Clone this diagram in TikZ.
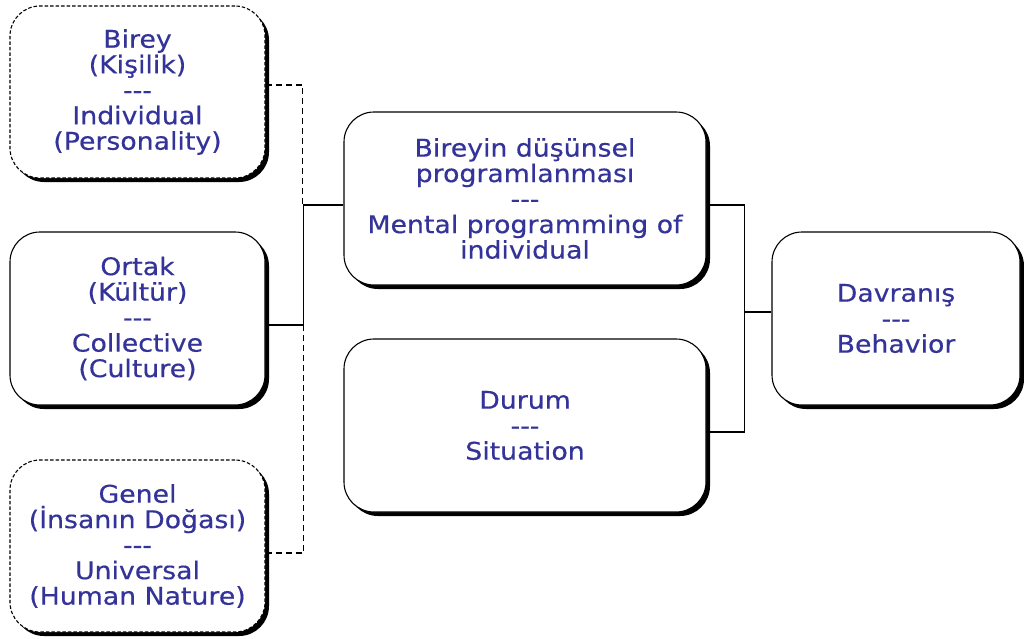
\documentclass[tikz,border=0pt]{standalone}
\usepackage{fontspec}
\setmainfont[FakeStretch=1.1,FakeBold=0.4]{DejaVu Sans}
\usetikzlibrary{shadows,calc}
\definecolor{txt}{HTML}{333399}
\newcommand{\sep}{-{}-{}-}
\begin{document}
\begin{tikzpicture}[x=1pt,y=-1pt,
  box/.style={draw=black, line width=1.1pt, fill=white, rounded corners=30pt,
    align=center, text=txt, font=\fontsize{24.3}{25.5}\selectfont, inner sep=0pt,
    drop shadow={shadow xshift=4pt, shadow yshift=-4pt, fill=black, opacity=1}},
  dashbox/.style={box, dash pattern=on 3.5pt off 2pt},
  link/.style={line width=1.2pt, draw=black},
  dashlink/.style={link, dash pattern=on 6pt off 4pt}]
\useasboundingbox (0,0) rectangle (1024,638);

% left column
\node[dashbox, minimum width=255pt, minimum height=172pt] (A) at (137.5,92)
  {Birey\\(Kişilik)\\\sep\\Individual\\(Personality)};
\node[box, minimum width=255pt, minimum height=173pt] (B) at (137.5,318.5)
  {Ortak\\(Kültür)\\\sep\\Collective\\(Culture)};
\node[dashbox, minimum width=255pt, minimum height=172pt] (C) at (137.5,546)
  {Genel\\(İnsanın Doğası)\\\sep\\Universal\\(Human Nature)};

% middle column
\node[box, minimum width=362pt, minimum height=173pt] (D) at (525,198.5)
  {Bireyin düşünsel\\programlanması\\\sep\\Mental programming of\\individual};
\node[box, minimum width=362pt, minimum height=173pt] (E) at (525,425.5)
  {Durum\\\sep\\Situation};

% right column
\node[box, minimum width=248pt, minimum height=173pt] (F) at (896,318.5)
  {Davranış\\\sep\\Behavior};

% connectors
\draw[link] ([yshift=-6.5pt]B.east) -- ++(38,0) |- ([yshift=-6.5pt]D.west);
\draw[dashlink] ([yshift=7pt]A.east) -| ([xshift=-41pt,yshift=-6.5pt]D.west);
\draw[dashlink] ([yshift=-7pt]C.east) -| ([xshift=38pt,yshift=-6.5pt]B.east);

\coordinate (j) at ([xshift=-27pt,yshift=6.5pt]F.west);
\draw[link] ([yshift=-6.5pt]D.east) -| (j);
\draw[link] ([yshift=-6.5pt]E.east) -| (j);
\draw[link] (j) -- (j -| F.west);
\end{tikzpicture}
\end{document}
